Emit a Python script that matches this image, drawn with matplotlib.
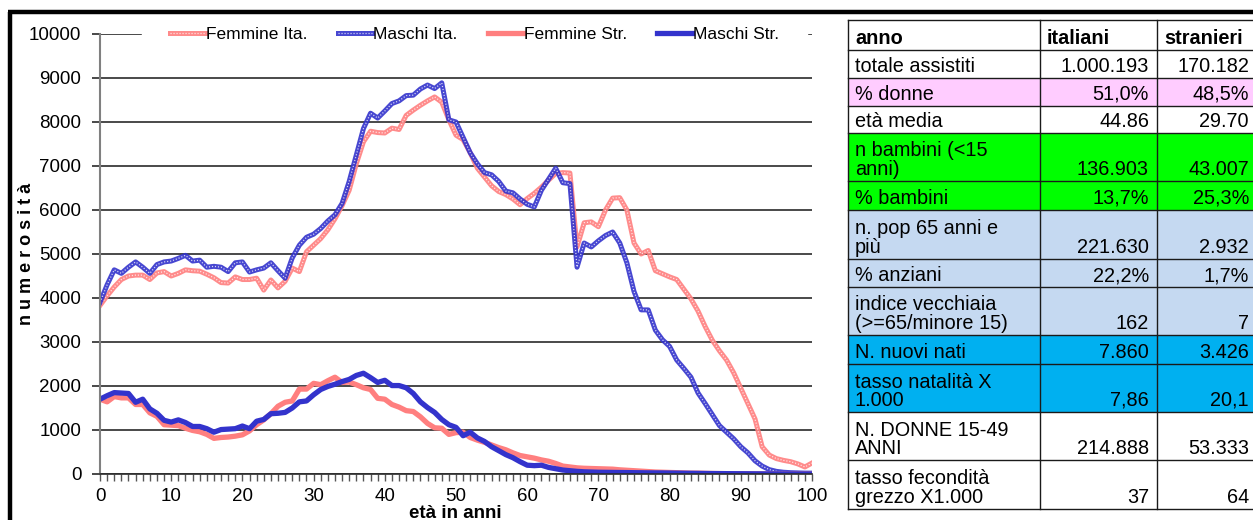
import numpy as np
import matplotlib
matplotlib.use("Agg")
import matplotlib.pyplot as plt
from matplotlib.patches import Rectangle

plt.rcParams['font.family'] = ['Liberation Sans', 'DejaVu Sans']

# ---- data: assistiti per età (0..100 anni) ----
eta = list(range(101))

femmine_ita = [
    3830, 4050, 4250, 4420, 4500, 4520, 4520, 4420, 4570, 4600,
    4500, 4560, 4640, 4620, 4610, 4540, 4460, 4350, 4340, 4480,
    4420, 4420, 4450, 4180, 4410, 4230, 4380, 4680, 4600, 5050,
    5200, 5350, 5550, 5800, 6100, 6450, 7050, 7550, 7790, 7760,
    7750, 7860, 7830, 8150, 8270, 8380, 8480, 8570, 8450, 8050,
    7700, 7600, 7300, 6950, 6750, 6550, 6420, 6350, 6250, 6120,
    6260, 6380, 6520, 6680, 6830, 6850, 6840, 5160, 5710, 5730,
    5620, 6000, 6270, 6280, 6000, 5250, 5000, 5080, 4620, 4550,
    4480, 4420, 4200, 3980, 3700, 3350, 3040, 2800, 2590, 2300,
    1950, 1600, 1250, 620, 430, 350, 310, 280, 230, 160,
    250]

maschi_ita = [
    3900, 4300, 4640, 4560, 4700, 4820, 4700, 4560, 4760, 4820,
    4840, 4900, 4970, 4840, 4860, 4700, 4720, 4700, 4600, 4800,
    4820, 4590, 4640, 4680, 4800, 4620, 4450, 4910, 5200, 5380,
    5450, 5580, 5750, 5890, 6150, 6650, 7250, 7850, 8200, 8090,
    8250, 8420, 8480, 8600, 8610, 8750, 8840, 8760, 8890, 8050,
    8000, 7650, 7300, 7050, 6850, 6800, 6650, 6430, 6390, 6250,
    6130, 6070, 6450, 6700, 6950, 6620, 6600, 4700, 5250, 5160,
    5300, 5420, 5500, 5250, 4800, 4150, 3730, 3730, 3270, 3050,
    2900, 2590, 2400, 2200, 1840, 1600, 1350, 1100, 950, 800,
    620, 480, 300, 180, 100, 60, 40, 30, 25, 20,
    20]

femmine_str = [
    1700, 1640, 1760, 1730, 1730, 1580, 1580, 1390, 1310, 1120,
    1110, 1100, 1040, 990, 960, 900, 810, 830, 840, 860,
    890, 980, 1120, 1230, 1370, 1540, 1630, 1660, 1930, 1930,
    2060, 2030, 2120, 2200, 2080, 2090, 2030, 1960, 1920, 1720,
    1700, 1580, 1520, 1440, 1420, 1300, 1150, 1050, 1040, 900,
    940, 950, 830, 770, 720, 660, 600, 550, 480, 420,
    390, 360, 320, 290, 240, 180, 160, 140, 130, 125,
    120, 115, 110, 95, 85, 75, 65, 55, 45, 40,
    35, 30, 25, 20, 20, 15, 12, 10, 8, 6,
    5, 4, 3, 2, 2, 1, 1, 0, 0, 0,
    0]

maschi_str = [
    1700, 1780, 1850, 1840, 1830, 1630, 1700, 1480, 1380, 1220,
    1180, 1230, 1170, 1080, 1080, 1030, 950, 1010, 1020, 1030,
    1090, 1030, 1200, 1240, 1370, 1380, 1400, 1500, 1640, 1660,
    1800, 1920, 1990, 2040, 2100, 2150, 2240, 2290, 2190, 2080,
    2130, 2010, 2010, 1960, 1830, 1640, 1510, 1400, 1240, 1120,
    1060, 870, 950, 820, 740, 620, 530, 440, 370, 280,
    200, 190, 200, 150, 120, 90, 75, 60, 50, 45,
    40, 38, 36, 34, 32, 30, 28, 26, 25, 24,
    22, 20, 18, 16, 14, 12, 10, 9, 8, 7,
    6, 5, 4, 3, 2, 2, 1, 1, 0, 0,
    0]

# ---- data: tabella ----
col_header = ["anno", "italiani", "stranieri"]
row_labels = ["totale assistiti", "% donne", "età media",
              "n bambini (<15\nanni)", "% bambini",
              "n. pop 65 anni e\npiù", "% anziani",
              "indice vecchiaia\n(>=65/minore 15)", "N. nuovi nati",
              "tasso natalità X\n1.000", "N. DONNE 15-49\nANNI",
              "tasso fecondità\ngrezzo X1.000"]
val_italiani = ["1.000.193", "51,0%", "44.86", "136.903", "13,7%", "221.630",
                "22,2%", "162", "7.860", "7,86", "214.888", "37"]
val_stranieri = ["170.182", "48,5%", "29.70", "43.007", "25,3%", "2.932",
                 "1,7%", "7", "3.426", "20,1", "53.333", "64"]
row_colors = ["white", "#FFCCFF", "white", "#00FF00", "#00FF00", "#C5D9F1",
              "#C5D9F1", "#C5D9F1", "#00B0F0", "#00B0F0", "white", "white"]

PINK = "#FF7F7F"
BLUE = "#3333CC"

W, H = 1253, 520
fig = plt.figure(figsize=(W / 100, H / 100), dpi=100)

# main chart axes, placed in pixel coords
x0, x1, ytop, ybot = 100, 812, 34, 474
ax = fig.add_axes([x0 / W, 1 - ybot / H, (x1 - x0) / W, (ybot - ytop) / H])

dots = dict(color="white", lw=0.9, ls=(0, (0.9, 1.5)), alpha=0.8)
l1, = ax.plot(eta, femmine_ita, color=PINK, lw=3.6, alpha=0.9)
d1, = ax.plot(eta, femmine_ita, **dots)
l2, = ax.plot(eta, maschi_ita, color=BLUE, lw=3.6, alpha=0.9)
d2, = ax.plot(eta, maschi_ita, **dots)
l3, = ax.plot(eta, femmine_str, color=PINK, lw=3.8)
l4, = ax.plot(eta, maschi_str, color=BLUE, lw=3.8)

ax.set_xlim(0, 100)
ax.set_ylim(0, 10000)
ax.set_yticks(range(0, 10001, 1000))
ax.set_xticks(range(0, 101, 10))
ax.set_xticks(range(0, 101, 1), minor=True)
ax.yaxis.grid(True, color="#2a2a2a", lw=1.2)
ax.set_axisbelow(True)
for s in ["top", "right"]:
    ax.spines[s].set_visible(False)
ax.spines["left"].set_color("#808080")
ax.spines["left"].set_linewidth(1.5)
ax.spines["bottom"].set_color("#2a2a2a")
ax.spines["bottom"].set_linewidth(1.2)
ax.tick_params(axis="y", length=5.5, width=1.2, color="#2a2a2a", pad=8, labelsize=13.5)
ax.tick_params(axis="x", which="both", length=5, width=1, color="#555555", pad=5, labelsize=13.5)

leg = ax.legend([(l1, d1), (l2, d2), l3, l4],
                ["Femmine Ita.", "Maschi Ita.", "Femmine Str.", "Maschi Str."],
                ncol=4, loc="center", bbox_to_anchor=(0.526, 1.0),
                frameon=True, fancybox=False, facecolor="white", edgecolor="white",
                framealpha=1, fontsize=12.5, handlelength=2.0, handletextpad=0.05,
                columnspacing=1.75, borderpad=1.6)

fig.text(455 / W, 1 - 513 / H, "età in anni", ha="center", va="center",
         fontsize=13.5, fontweight="bold")
fig.text(27 / W, 1 - 254 / H, "n u m e r o s i t à", ha="center", va="center",
         rotation=90, fontsize=13, fontweight="bold")

# overlay in pixel coords for table and frame
ov = fig.add_axes([0, 0, 1, 1], zorder=5)
ov.set_xlim(0, W)
ov.set_ylim(H, 0)
ov.axis("off")
ov.patch.set_alpha(0)

# outer frame
ov.plot([8, W], [12, 12], color="black", lw=3.2, solid_capstyle="butt")
ov.plot([10, 10], [12, H], color="black", lw=3.2, solid_capstyle="butt")

cols = [848, 1040, 1157, 1257]
rows_y = [20, 50, 78, 106, 133, 181, 210, 259, 287, 335, 364, 412, 460, 509]
fs = 14.3
line_h = 18.5

for i in range(len(rows_y) - 1):
    top, bot = rows_y[i], rows_y[i + 1]
    color = "white" if i == 0 else row_colors[i - 1]
    ov.add_patch(Rectangle((cols[0], top), cols[-1] - cols[0], bot - top,
                           facecolor=color, edgecolor="none"))
    if i == 0:
        for j, txt in enumerate(col_header):
            ov.text(cols[j] + 7, bot - 6, txt, ha="left", va="baseline",
                    fontsize=fs, fontweight="bold")
        continue
    lines = row_labels[i - 1].split("\n")
    for k, ln in enumerate(lines):
        ov.text(cols[0] + 7, bot - 6 - (len(lines) - 1 - k) * line_h, ln,
                ha="left", va="baseline", fontsize=fs)
    ov.text(cols[2] - 8, bot - 6, val_italiani[i - 1], ha="right", va="baseline", fontsize=fs)
    ov.text(cols[3] - 8, bot - 6, val_stranieri[i - 1], ha="right", va="baseline", fontsize=fs)

for y in rows_y:
    ov.plot([cols[0], cols[-1]], [y, y], color="#1a1a1a", lw=1.0)
for x in cols[:-1]:
    ov.plot([x, x], [rows_y[0], rows_y[-1]], color="#1a1a1a", lw=1.0)

fig.savefig("out.png", dpi=100)
